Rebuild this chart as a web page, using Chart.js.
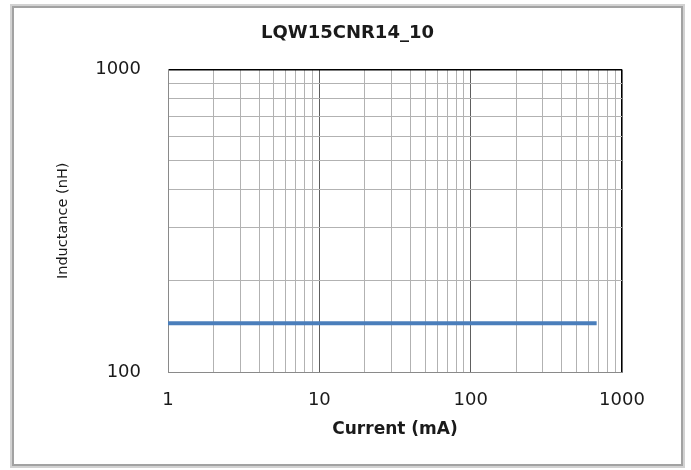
<!DOCTYPE html>
<html>
<head>
<meta charset="utf-8">
<script src="https://cdn.jsdelivr.net/npm/chart.js@4"></script>
<style>
  html, body { margin: 0; padding: 0; background: #fff; }
  #outer { position: absolute; left: 10px; top: 4px; width: 675px; height: 464px; box-sizing: border-box; border: 2px solid #d2d2d2; }
  #inner { width: 100%; height: 100%; box-sizing: border-box; border: 2px solid #a2a2a2; background: #fff; }
  canvas { display: block; }
</style>
</head>
<body>
<div id="outer"><div id="inner"><canvas id="c" width="667" height="456"></canvas></div></div>
<script>
// Data
const chartTitle = "LQW15CNR14_10";
const xAxisTitle = "Current (mA)";
const yAxisTitle = "Inductance (nH)";
const currentMA = [1, 2, 5, 10, 20, 50, 100, 200, 500, 680];
const inductanceNH = [145, 145, 145, 145, 145, 145, 145, 145, 145, 145];
// Axis ticks / gridlines
const xGridValues = [1,2,3,4,5,6,7,8,9,10,20,30,40,50,60,70,80,90,100,200,300,400,500,600,700,800,900,1000];
const yGridValues = [100,200,300,400,500,600,700,800,900,1000];
const xTickLabels = ["1", "10", "100", "1000"];
const yTickLabels = ["100", "1000"];

const points = currentMA.map((x, i) => ({ x: x, y: inductanceNH[i] }));

function gridColor(ctx, minVal, maxVal, majors) {
  const v = ctx.tick ? ctx.tick.value : null;
  if (v === maxVal) return '#000000';
  if (v === minVal) return '#8a8a8a';
  if (majors.indexOf(v) >= 0) return '#5e5e5e';
  return '#b2b2b2';
}
function gridWidth(ctx, maxVal) {
  const v = ctx.tick ? ctx.tick.value : null;
  if (v === maxVal) return 1.6;
  return 1;
}

new Chart(document.getElementById('c'), {
  type: 'line',
  data: {
    datasets: [{
      data: points,
      xAxisID: 'x',
      yAxisID: 'y',
      borderColor: '#4a7ebb',
      borderWidth: 4,
      pointRadius: 0,
      fill: false,
      tension: 0
    }]
  },
  options: {
    responsive: false,
    animation: false,
    devicePixelRatio: 1,
    layout: { padding: 0 },
    plugins: {
      legend: { display: false },
      tooltip: { enabled: false },
      title: {
        display: true,
        text: chartTitle,
        color: '#1a1a1a',
        font: { family: 'DejaVu Sans', size: 18, weight: 'bold' },
        padding: { top: 15, bottom: 25 }
      }
    },
    scales: {
      x: {
        type: 'logarithmic',
        position: 'bottom',
        min: 1,
        max: 1000,
        afterBuildTicks: (s) => { s.ticks = xGridValues.map(v => ({ value: v })); },
        afterFit: (s) => { s.height = 92; },
        border: { display: true, color: '#8a8a8a', width: 1 },
        grid: {
          drawTicks: false,
          color: (ctx) => gridColor(ctx, 1, 1000, [10, 100]),
          lineWidth: (ctx) => gridWidth(ctx, 1000)
        },
        ticks: {
          autoSkip: false,
          maxRotation: 0,
          padding: 18,
          color: '#1a1a1a',
          font: { family: 'DejaVu Sans', size: 18 },
          callback: (v) => { const s = String(v); return xTickLabels.indexOf(s) >= 0 ? s : ''; }
        },
        title: {
          display: true,
          text: xAxisTitle,
          color: '#1a1a1a',
          font: { family: 'DejaVu Sans', size: 17, weight: 'bold' },
          padding: { top: 0, bottom: 24 }
        }
      },
      y: {
        type: 'logarithmic',
        position: 'left',
        min: 100,
        max: 1000,
        afterBuildTicks: (s) => { s.ticks = yGridValues.map(v => ({ value: v })); },
        afterFit: (s) => { s.width = 154; },
        border: { display: true, color: '#8a8a8a', width: 1 },
        grid: {
          drawTicks: false,
          color: (ctx) => gridColor(ctx, 100, 1000, []),
          lineWidth: (ctx) => gridWidth(ctx, 1000)
        },
        ticks: {
          autoSkip: false,
          padding: 27,
          color: '#1a1a1a',
          font: { family: 'DejaVu Sans', size: 18 },
          callback: (v) => { const s = String(v); return yTickLabels.indexOf(s) >= 0 ? s : ''; }
        },
        title: {
          display: true,
          text: yAxisTitle,
          color: '#1a1a1a',
          font: { family: 'DejaVu Sans', size: 14.5 },
          padding: { top: 41, bottom: 0 }
        }
      },
      rightSpace: {
        type: 'linear',
        position: 'right',
        display: true,
        min: 0,
        max: 1,
        afterFit: (s) => { s.width = 59; },
        border: { display: false },
        grid: { display: false, drawTicks: false },
        ticks: { display: false }
      }
    }
  }
});
</script>
</body>
</html>
